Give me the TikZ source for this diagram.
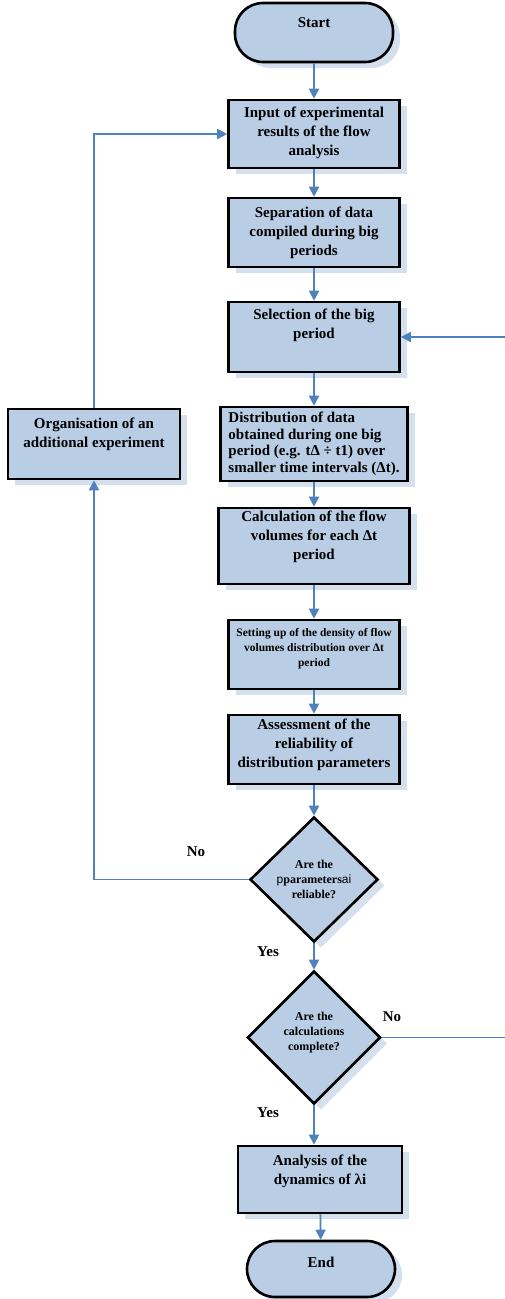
\documentclass[tikz,border=0pt]{standalone}
\usepackage{fontspec}
\setmainfont{Liberation Serif}
\setsansfont{Liberation Sans}
\usepackage{xcolor}
\definecolor{boxblue}{HTML}{B9CDE5}
\definecolor{shadeblue}{HTML}{D5E0EF}
\definecolor{linkblue}{HTML}{4F81BD}
\usetikzlibrary{arrows.meta, shapes.geometric}
\newcommand{\lift}[1]{\rule[-#1]{0pt}{#1}}

\begin{document}
\begin{tikzpicture}[
        x=1pt, y=-1pt,
        >={Triangle[width=10pt,length=10pt]},
        shade/.style={preaction={fill=shadeblue,draw=none,transform canvas={shift={(7pt,-6pt)}}}},
        block/.style={rectangle,shade,draw=black,line width=2.6pt,fill=boxblue,align=center,inner sep=1pt,
            minimum width=171pt,minimum height=69pt,font=\fontsize{15}{19}\selectfont\bfseries},
        term/.style={block,rounded corners=28pt},
        test/.style={diamond,shade,draw=black,line width=2.6pt,fill=boxblue,align=center,inner sep=0pt,
            font=\fontsize{12}{15}\selectfont\bfseries},
        link/.style={draw=linkblue,line width=1.8pt},
        answer/.style={font=\fontsize{15}{18}\selectfont\bfseries}
    ]
    \useasboundingbox[fill=white] (0,0) rectangle (505,1299);
    \node[term,minimum width=158pt,minimum height=59pt] (Start) at (314,32.5) {Start\lift{19pt}};
    \node[block,minimum height=68pt] (Input) at (314,134) {Input of experimental\\ results of the flow\\ analysis\lift{6pt}};
    \node[block] (Sep) at (314,232.5) {Separation of data\\ compiled during big\\ periods};
    \node[block,minimum height=70pt] (Sel) at (314,337) {Selection of the big\\ period\lift{27pt}};
    \node[block,minimum width=187pt,minimum height=74pt,align=left,font=\fontsize{15}{16.5}\selectfont\bfseries] (Dist) at (314,444)
        {Distribution of data\\ obtained during one big\\ period (e.g. tΔ ÷ t1) over\\ smaller time intervals (Δt).};
    \node[block,minimum width=191pt,minimum height=76pt] (Calc) at (314,546) {Calculation of the flow\\ volumes for each Δt\\ period\lift{21pt}};
    \node[block,font=\fontsize{11.5}{15}\selectfont\bfseries] (Set) at (314,654.5)
        {Setting up of the density of flow\\ volumes distribution over Δt\\ period\lift{15pt}};
    \node[block] (Ass) at (314,749.5) {Assessment of the\\ reliability of\\ distribution parameters\lift{12pt}};
    \node[test,minimum width=128pt,minimum height=125pt] (D1) at (314,879.5)
        {Are the\\ {\sffamily\mdseries p}parameters{\sffamily\mdseries ai}\\ reliable?};
    \node[test,minimum width=133pt,minimum height=133pt] (D2) at (314,1037.5)
        {Are the\\ calculations\\ complete?\lift{12pt}};
    \node[block,minimum width=164pt,minimum height=67pt] (An) at (320,1179.5) {Analysis of the\\ dynamics of λi\lift{19pt}};
    \node[term,minimum width=148pt,minimum height=56pt] (End) at (321,1269) {End\lift{14pt}};
    \node[block,minimum width=172pt,minimum height=70pt] (Org) at (94,444) {Organisation of an\\ additional experiment\lift{23pt}};
    \node[answer] (No1) at (196,852) {No};
    \node[answer] (Yes1) at (268,952) {Yes};
    \node[answer] (No2) at (392,1017) {No};
    \node[answer] (Yes2) at (268,1113) {Yes};
    \draw[link,->] (Start) -- (Input);
    \draw[link,->] (Input) -- (Sep);
    \draw[link,->] (Sep) -- (Sel);
    \draw[link,->] (Sel) -- (Dist);
    \draw[link,->] (Dist) -- (Calc);
    \draw[link,->] (Calc) -- (Set);
    \draw[link,->] (Set) -- (Ass);
    \draw[link,->] (Ass) -- (D1);
    \draw[link,->] (D1) -- (D2);
    \draw[link,->] (D2.south) -- (D2.south |- An.north);
    \draw[link,->] (An) -- (End);
    \draw[link,->] (D1.west) -| (Org.south);
    \draw[link,->] (Org.north) |- (Input.west);
    \draw[link,->] (D2.east) -- ++(124,0) |- (Sel.east);
\end{tikzpicture}
\end{document}
